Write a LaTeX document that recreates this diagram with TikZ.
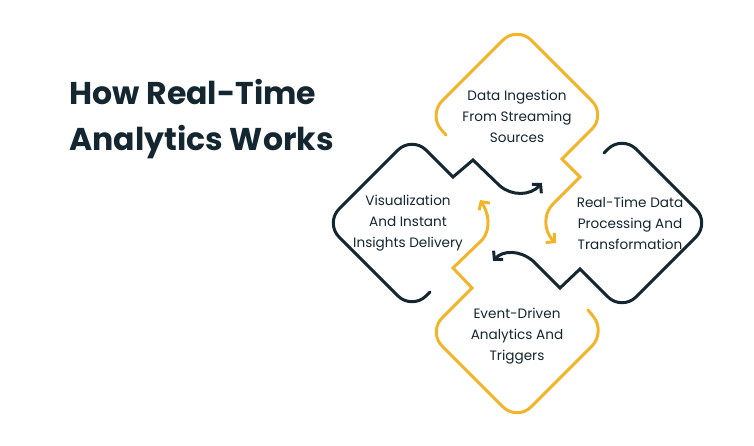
\documentclass[tikz,border=0pt]{standalone}
\usepackage{fontspec}
\setmainfont{Poppins}
\usetikzlibrary{arrows.meta}
\definecolor{ylw}{HTML}{F2B42B}
\definecolor{drk}{HTML}{14262F}
\begin{document}
\begin{tikzpicture}[x=1pt,y=-1pt,
  ln/.style={line width=3pt,rounded corners=20pt,line cap=round},
  tip/.style={-{Straight Barb[length=6pt,width=13pt,line width=3pt]}},
  lbl/.style={align=center,font=\fontsize{13.6}{21}\selectfont,text=drk}]
\useasboundingbox (0,0) rectangle (754,446);
\node[anchor=west,align=left,text=drk,font=\fontsize{31.5}{46}\selectfont\bfseries] (title) at (66,119) {How Real-Time\\Analytics Works};
% top yellow
\draw[ln,ylw,tip] (446,135) -- (428,115) -- (517,26) -- (606,115) [sharp corners]-- (562,159) -- (580,177) -- (552,205) .. controls (540,220) and (548,236) .. (556,243);
% bottom yellow
\draw[ln,ylw,tip] (588,310) -- (606,332) -- (517,421) -- (428,332) [sharp corners]-- (472,288) -- (453,268) -- (482,240) .. controls (492,228) and (488,212) .. (480,200);
% left dark
\draw[ln,drk,tip] (430,292) -- (412,310) -- (325,223) -- (412,136) [sharp corners]-- (453,177) -- (473,160) -- (500,186) .. controls (512,196) and (530,196) .. (542,183);
% right dark
\draw[ln,drk,tip] (604,153) -- (622,135) -- (710,223) -- (622,311) [sharp corners]-- (580,269) -- (560,288) -- (533,261) .. controls (520,250) and (503,250) .. (493,261);
\node[lbl] (a) at (517,116) {Data Ingestion\\From Streaming\\Sources};
\node[lbl] (b) at (408,223) {Visualization\\And Instant\\Insights Delivery};
\node[lbl] (c) at (630,223) {Real-Time Data\\Processing And\\Transformation};
\node[lbl] (d) at (517,336) {Event-Driven\\Analytics And\\Triggers};
\end{tikzpicture}
\end{document}
